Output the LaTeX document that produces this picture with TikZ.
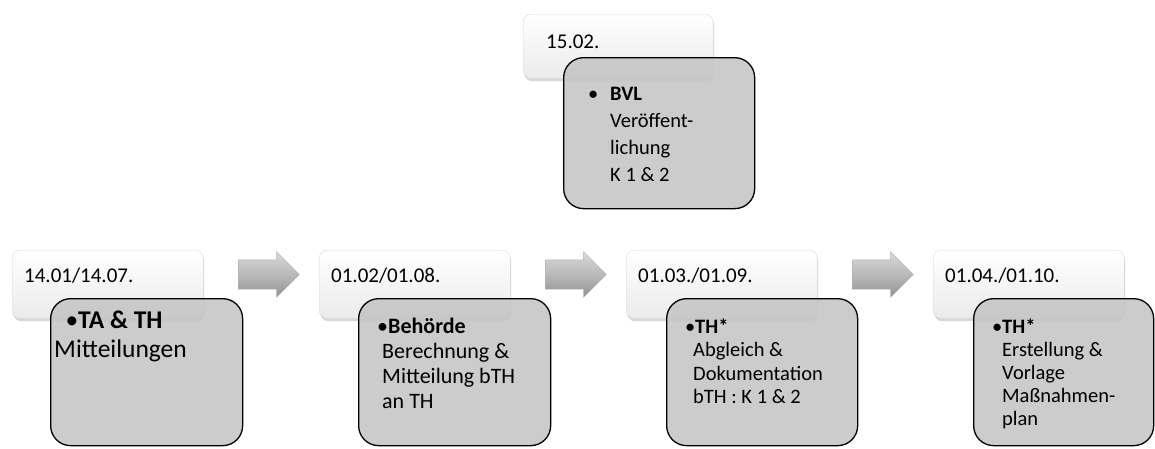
\documentclass[tikz,border=0pt]{standalone}
\usepackage{fontspec}
\setmainfont{Carlito}
\usetikzlibrary{shapes.arrows,shadows}

\begin{document}
\begin{tikzpicture}
[x=1pt,y=-1pt,
  dateDecorate/.style={rectangle,rounded corners=8pt,top color=white,bottom color=gray!16,%
    draw=gray!30,drop shadow={opacity=0.3,shadow xshift=1pt,shadow yshift=-3pt},%
    minimum width=191pt,minimum height=68pt,inner sep=0pt,anchor=north west},%
  noteDecorate/.style={rectangle,rounded corners=20pt,fill=gray!45,fill opacity=0.9,%
    draw=black,line width=1.3pt,minimum height=147pt,inner sep=0pt,anchor=north west},%
  arrowDecorate/.style={single arrow,single arrow head extend=8pt,minimum height=61pt,%
    inner xsep=0pt,inner ysep=14.5pt,top color=gray!30,bottom color=gray!85,%
    middle color=gray!55,draw=gray!60},%
  textDecorate/.style={anchor=base west,inner sep=0pt}]
\useasboundingbox (0,0) rectangle (1155,448);
%% date on top
\node (d0) at (523,14) [dateDecorate,minimum width=190pt,minimum height=64pt] {};
\node (d0t) [textDecorate,xshift=23pt,yshift=-34pt] at (d0.north west)
  {\fontsize{21}{25}\selectfont 15.02.};
\node (n0) at (563,57) [noteDecorate,minimum width=191pt,minimum height=151pt] {};
\node (n0t) [textDecorate,xshift=47pt,yshift=-43pt] at (n0.north west)
  {\fontsize{20.5}{27}\selectfont\parbox[t]{180pt}{%
    \leavevmode\llap{\textbullet\hspace{12pt}}\textbf{BVL}\\Veröffent-\\lichung\\K 1 \& 2}};
%% dates in a row
\foreach \i/\dx/\nx/\nw/\datetext/\head/\body/\size/\lead/\tx/\bx/\ty in {
  1/12/50/192/{14.01/14.07.}/{TA \& TH}/{Mitteilungen}/25.5/29/4/24/30,
  2/319/358/192/{01.02/01.08.}/{Behörde}/{Berechnung \&\\Mitteilung bTH\\an TH}/22/25/24/6/35,
  3/626/666/191/{01.03./01.09.}/{TH*}/{Abgleich \&\\Dokumentation\\bTH : K 1 \& 2}/20.5/23.5/27/2/35,
  4/933/973/180/{01.04./01.10.}/{TH*}/{Erstellung \&\\Vorlage\\Maßnahmen-\\plan}/20.5/23/29/0/35}
{
  \node (d\i) at (\dx,250) [dateDecorate] {};
  \node (d\i t) [textDecorate,xshift=12pt,yshift=-32pt] at (d\i.north west)
    {\fontsize{21}{25}\selectfont\datetext};
  \node (n\i) at (\nx,298) [noteDecorate,minimum width=\nw pt] {};
  \node (n\i t) [textDecorate,xshift=\tx pt,yshift=-\ty pt] at (n\i.north west)
    {\fontsize{\size}{\lead}\selectfont\parbox[t]{200pt}{%
      \hspace*{\bx pt}\llap{\textbullet}\textbf{\head}\\\body}};
}
%% arrows between the dates
\foreach \i/\ax in {1/261.5, 2/568.5, 3/875.5}
{
  \node (a\i) at (\ax,274.5) [arrowDecorate] {};
}
\end{tikzpicture}
\end{document}
